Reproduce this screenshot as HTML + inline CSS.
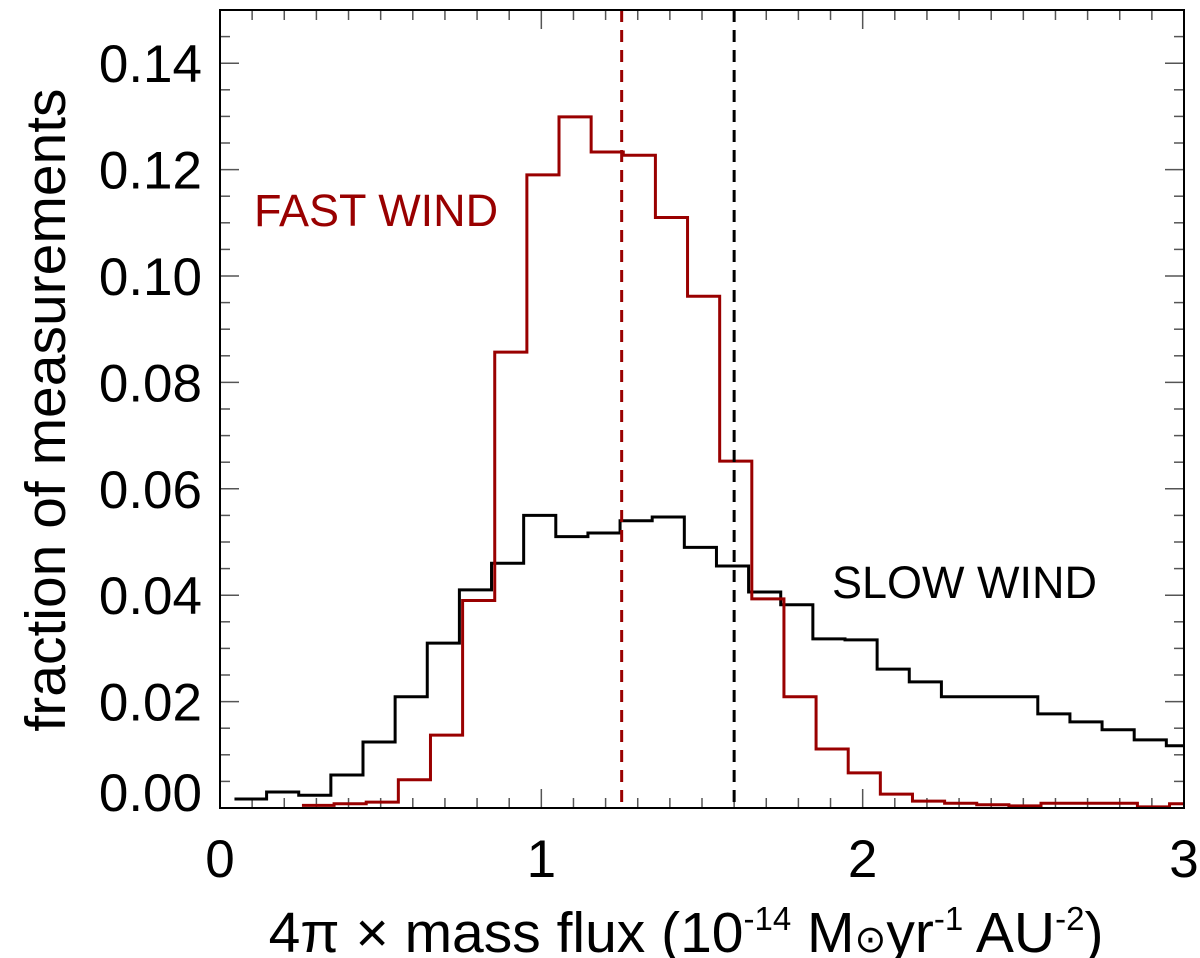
<!DOCTYPE html>
<html><head><meta charset="utf-8"><style>
html,body{margin:0;padding:0;background:#fff;}
svg{display:block;font-family:"Liberation Sans",Arial,sans-serif;}
</style></head><body>
<svg id="chart" width="1200" height="958" viewBox="0 0 1200 958" xmlns="http://www.w3.org/2000/svg">
<defs><clipPath id="plotclip"><rect x="220" y="10" width="964" height="798"/></clipPath></defs>
<g id="ticks"></g>
<g id="marks" clip-path="url(#plotclip)"></g>
<rect x="220" y="10" width="964" height="798" fill="none" stroke="#000" stroke-width="2"/>
<g id="labels" font-size="53" fill="#000"></g>
<text x="254" y="226" font-size="45" fill="#990000">FAST WIND</text>
<text x="832" y="598" font-size="45" fill="#000">SLOW WIND</text>
<text transform="translate(65,410) rotate(-90)" text-anchor="middle" font-size="57">fraction of measurements</text>
<text x="686" y="952" text-anchor="middle" font-size="57">4π × mass flux (10<tspan font-size="33" dy="-22">-14</tspan><tspan dy="22"> M</tspan><tspan font-size="38">⊙</tspan>yr<tspan font-size="33" dy="-22">-1</tspan><tspan dy="22"> AU</tspan><tspan font-size="33" dy="-22">-2</tspan><tspan dy="22">)</tspan></text>
</svg>
<script>
const slowValues=[0.0017,0.003,0.0024,0.0062,0.0124,0.0209,0.031,0.041,0.046,0.055,0.051,0.0517,0.054,0.0547,0.049,0.0455,0.0406,0.0382,0.0318,0.0316,0.0261,0.0237,0.0209,0.0209,0.0209,0.0177,0.0162,0.0147,0.0128,0.0117,0.011];
const slowStart=0.045;
const fastValues=[0.0005,0.0008,0.0011,0.0053,0.0137,0.039,0.0857,0.119,0.1299,0.1233,0.1227,0.111,0.0962,0.0652,0.0393,0.0209,0.0111,0.0066,0.0026,0.0013,0.0009,0.0006,0.0004,0.0009,0.0009,0.0009,0.0002,0.0008,0.0002];
const fastStart=0.255;
const binWidth=0.1;
const fastMedian=1.25;
const slowMedian=1.6;
const xTicks=[0,1,2,3];
const yTicks=[0,0.02,0.04,0.06,0.08,0.10,0.12,0.14];
const yTickLabels=["0.00","0.02","0.04","0.06","0.08","0.10","0.12","0.14"];

const L=220,R=1184,T=10,B=808,xmin=0,xmax=3,ymin=0,ymax=0.15;
const X=v=>L+(v-xmin)/(xmax-xmin)*(R-L);
const Y=v=>B-(v-ymin)/(ymax-ymin)*(B-T);
const NS="http://www.w3.org/2000/svg";
function mk(tag,attrs,parent){const e=document.createElementNS(NS,tag);for(const k in attrs)e.setAttribute(k,attrs[k]);parent.appendChild(e);return e;}
const ticks=document.getElementById('ticks'),marks=document.getElementById('marks'),labels=document.getElementById('labels');

for(let i=0;i<=30;i++){const v=i*0.1;if(v>xmax+1e-9)break;const x=X(v);const len=(i%10===0)?19:10;
 let t=mk('line',{x1:x,x2:x,y1:B,y2:B-len,stroke:'#555','stroke-width':1.5},ticks);
 
 
 t=mk('line',{x1:x,x2:x,y1:T,y2:T+len,stroke:'#555','stroke-width':1.5},ticks);
 
 }
for(let i=0;i<=30;i++){const v=i*0.005;if(v>ymax+1e-9)break;const y=Y(v);const len=(i%4===0)?19:10;
 let t=mk('line',{x1:L,x2:L+len,y1:y,y2:y,stroke:'#555','stroke-width':1.5},ticks);
 
 
 t=mk('line',{x1:R,x2:R-len,y1:y,y2:y,stroke:'#555','stroke-width':1.5},ticks);
 
 }
xTicks.forEach(v=>{const t=mk('text',{x:X(v),y:877,'text-anchor':'middle'},labels);t.textContent=String(v);
 
 });
yTicks.forEach((v,i)=>{const y=v===0?Y(v)-16:Y(v);const t=mk('text',{x:202,y:y+19,'text-anchor':'end'},labels);t.textContent=yTickLabels[i];
 
 });

function stepPath(vals,start){let d='';vals.forEach((v,i)=>{const x0=X(Math.max(xmin,start+i*binWidth)),x1=X(Math.min(xmax,start+(i+1)*binWidth)),y=Y(v);
 d+=(i===0?'M':'L')+x0+','+y+'L'+x1+','+y;});return d;}
let p=mk('path',{d:stepPath(slowValues,slowStart),fill:'none',stroke:'#000','stroke-width':3},marks);


p=mk('path',{d:stepPath(fastValues,fastStart),fill:'none',stroke:'#990000','stroke-width':3},marks);


let m=mk('line',{x1:X(fastMedian),x2:X(fastMedian),y1:T,y2:B,stroke:'#990000','stroke-width':3,'stroke-dasharray':'12,8'},marks);


m=mk('line',{x1:X(slowMedian),x2:X(slowMedian),y1:T,y2:B,stroke:'#000','stroke-width':3,'stroke-dasharray':'12,8'},marks);


</script>
</body></html>
